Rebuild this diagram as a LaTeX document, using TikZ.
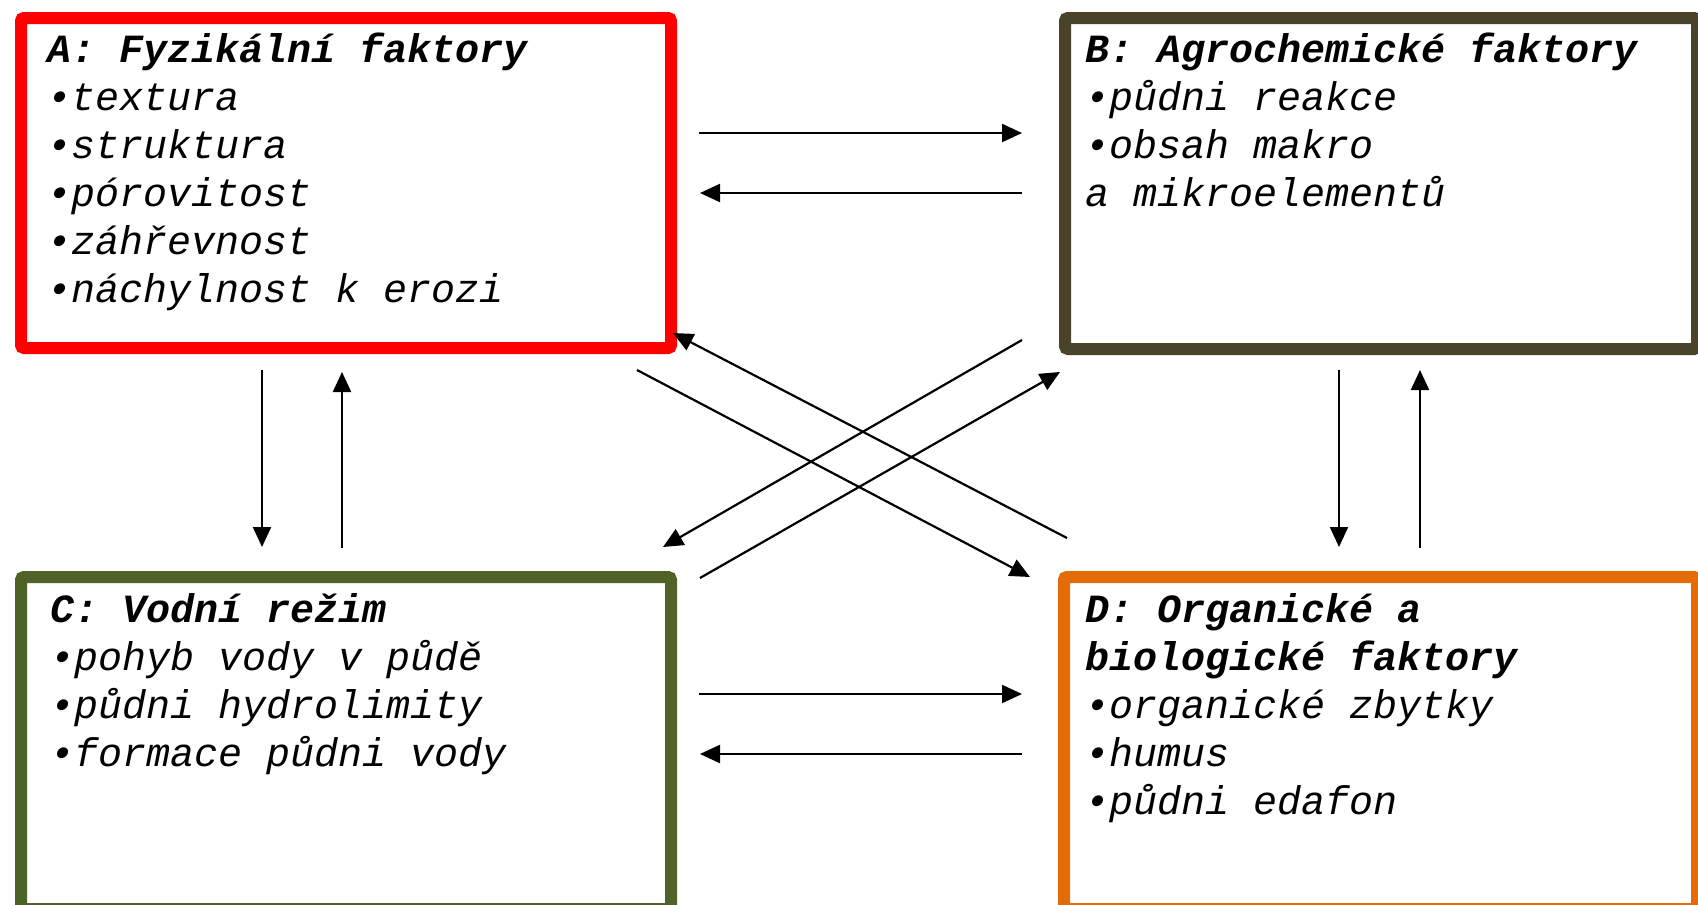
\documentclass[tikz,border=0pt]{standalone}
\usepackage{fontspec}
\setmonofont{Liberation Mono}
\usetikzlibrary{positioning}
\usetikzlibrary{arrows.meta}
\definecolor{factA}{RGB}{255,0,0}
\definecolor{factB}{RGB}{73,68,41}
\definecolor{factC}{RGB}{79,98,40}
\definecolor{factD}{RGB}{227,108,9}
\tikzset{factorbox/.style={rectangle, line width=12pt, rounded corners=3pt, inner sep=0pt, anchor=north west},
  factortext/.style={anchor=north west, inner sep=0pt, align=left, font=\ttfamily\itshape\fontsize{40}{48}\selectfont},
  link/.style={-{Triangle[length=20pt,width=18pt]}, line width=2.2pt}}

\begin{document}
\begin{tikzpicture}[x=1pt,y=-1pt]
    \path[use as bounding box, fill=white] (0,0) rectangle (1698,905);

    \node [factorbox, draw=factA, minimum width=650pt, minimum height=330pt](A) at (15,12) {};
    \node [factorbox, draw=factB, minimum width=632pt, minimum height=331pt](B) at (1059,12) {};
    \node [factorbox, draw=factC, minimum width=650pt, minimum height=332pt](C) at (15,571) {};
    \node [factorbox, draw=factD, minimum width=633pt, minimum height=332pt](D) at (1058,571) {};

    \node [factortext](At) at (47,28) {\rule{0pt}{34pt}\textbf{A: Fyzikální faktory}\\•textura\\•struktura\\•pórovitost\\•záhřevnost\\•náchylnost k erozi};
    \node [factortext](Bt) at (1085,28) {\rule{0pt}{34pt}\textbf{B: Agrochemické faktory}\\•půdni reakce\\•obsah makro\\a mikroelementů};
    \node [factortext](Ct) at (50,588) {\rule{0pt}{34pt}\textbf{C: Vodní režim}\\•pohyb vody v půdě\\•půdni hydrolimity\\•formace půdni vody};
    \node [factortext](Dt) at (1085,588) {\rule{0pt}{34pt}\textbf{D: Organické a}\\\textbf{biologické faktory}\\•organické zbytky\\•humus\\•půdni edafon};

    % horizontal links
    \coordinate (ab0) at (699,133);
    \coordinate (ab1) at (1022,133);
    \coordinate (ba0) at (1022,193);
    \coordinate (ba1) at (700,193);
    \coordinate (cd0) at (699,694);
    \coordinate (cd1) at (1022,694);
    \coordinate (dc0) at (1022,754);
    \coordinate (dc1) at (700,754);
    % vertical links
    \coordinate (ac0) at (262,370);
    \coordinate (ac1) at (262,547);
    \coordinate (ca0) at (342,548);
    \coordinate (ca1) at (342,372);
    \coordinate (bd0) at (1339,370);
    \coordinate (bd1) at (1339,547);
    \coordinate (db0) at (1420,548);
    \coordinate (db1) at (1420,370);
    % diagonal links
    \coordinate (ad0) at (637,370);
    \coordinate (ad1) at (1030,577);
    \coordinate (da0) at (1067,538);
    \coordinate (da1) at (673,333);
    \coordinate (bc0) at (1022,340);
    \coordinate (bc1) at (663,547);
    \coordinate (cb0) at (700,578);
    \coordinate (cb1) at (1060,372);

    \draw[link] (ab0) -- (ab1);
    \draw[link] (ba0) -- (ba1);
    \draw[link] (cd0) -- (cd1);
    \draw[link] (dc0) -- (dc1);
    \draw[link] (ac0) -- (ac1);
    \draw[link] (ca0) -- (ca1);
    \draw[link] (bd0) -- (bd1);
    \draw[link] (db0) -- (db1);
    \draw[link] (ad0) -- (ad1);
    \draw[link] (da0) -- (da1);
    \draw[link] (bc0) -- (bc1);
    \draw[link] (cb0) -- (cb1);
\end{tikzpicture}
\end{document}
